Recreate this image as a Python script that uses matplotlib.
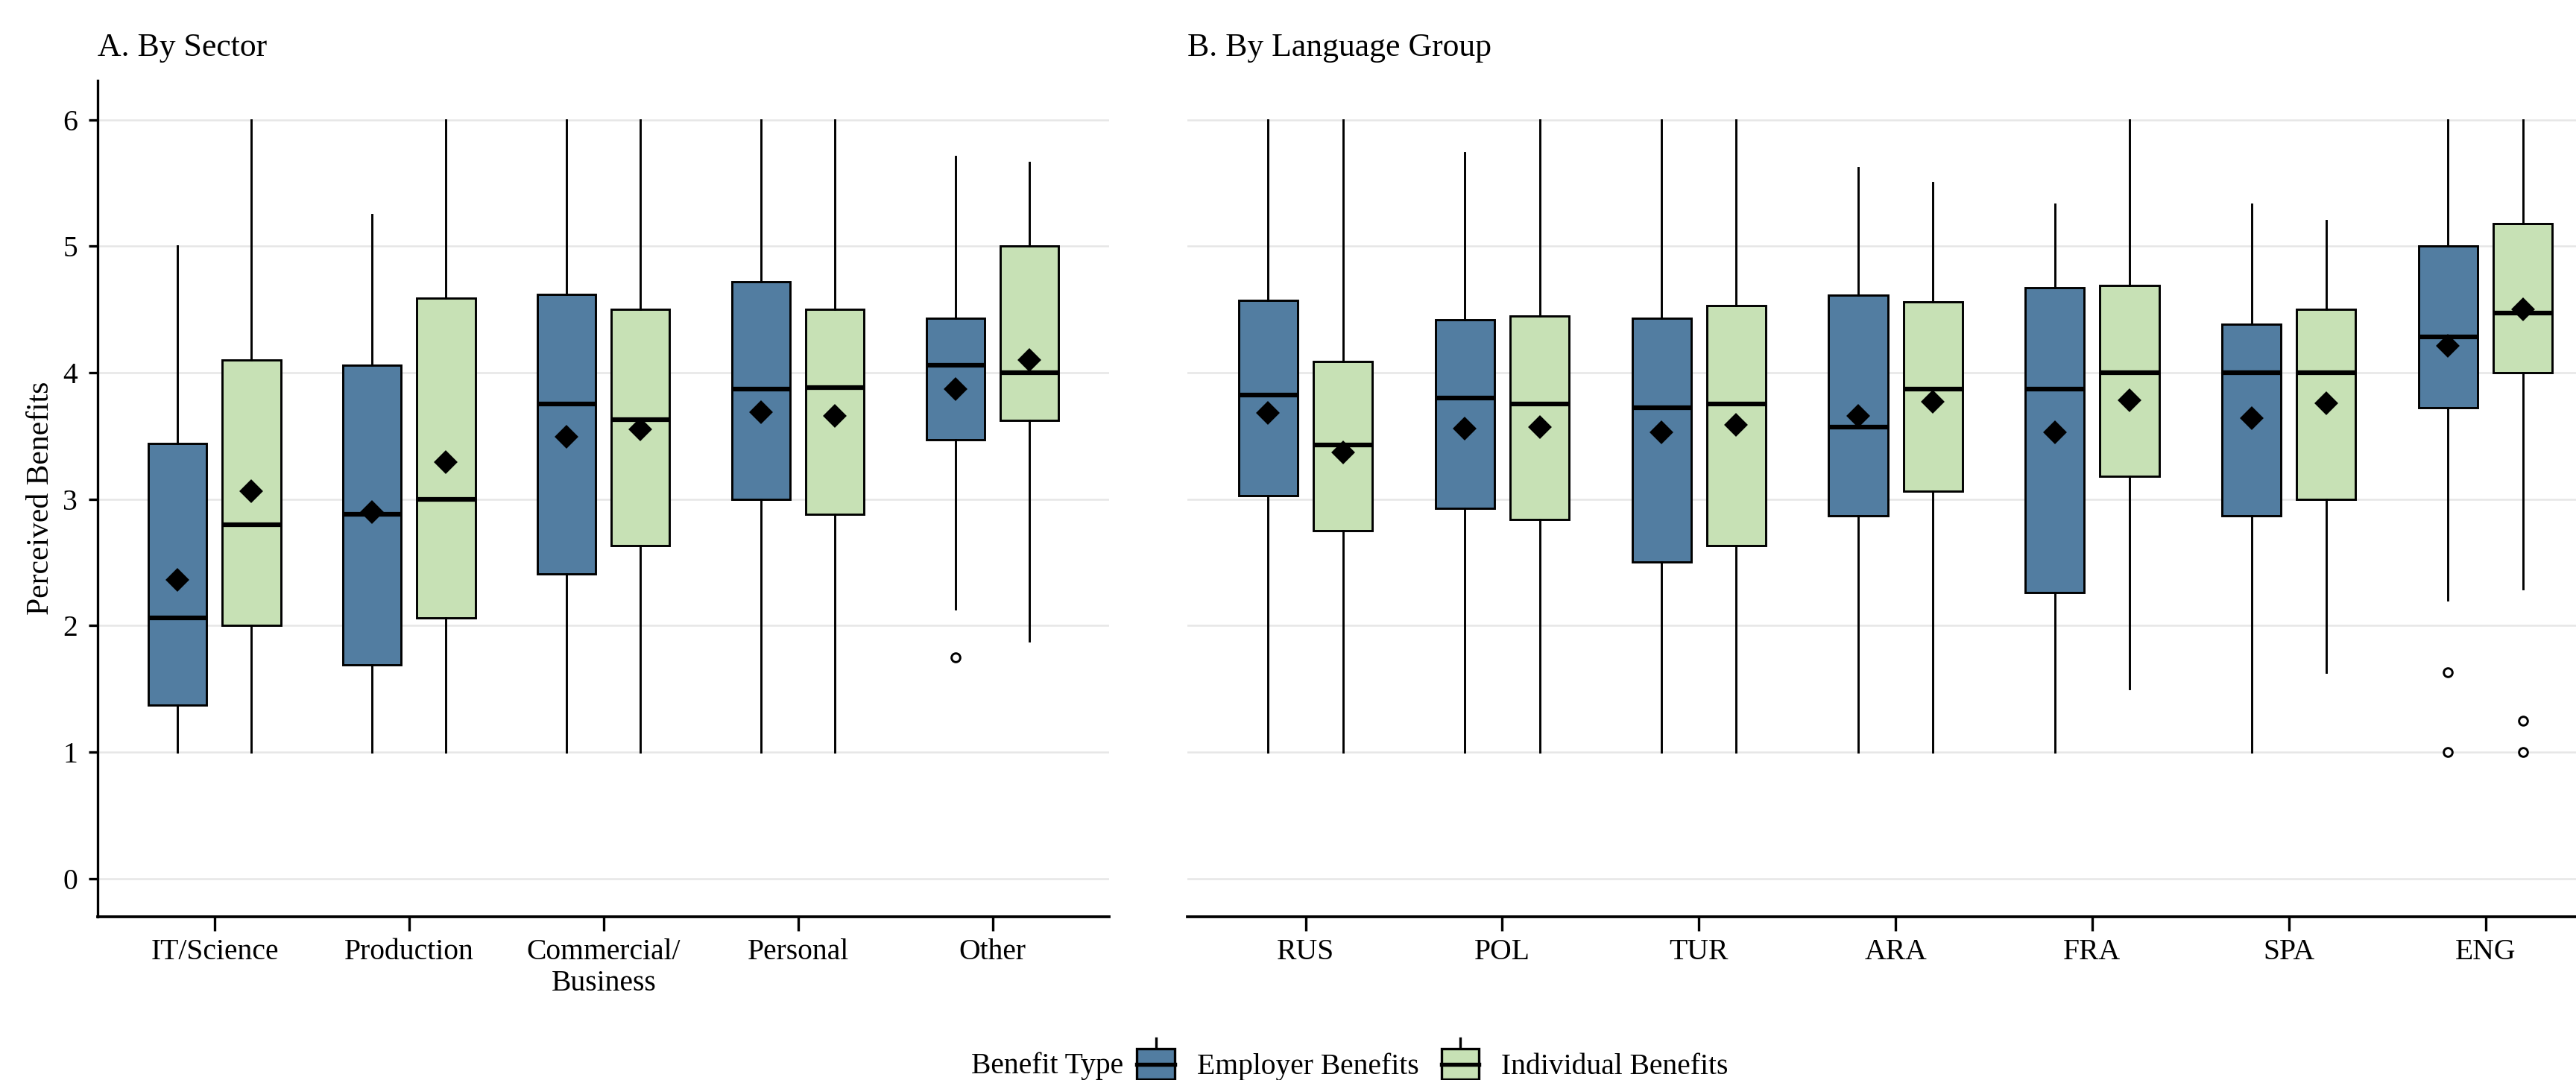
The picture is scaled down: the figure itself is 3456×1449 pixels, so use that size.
import matplotlib
matplotlib.use("Agg")
import matplotlib.pyplot as plt
from matplotlib.patches import Rectangle
from matplotlib.lines import Line2D
from matplotlib.legend_handler import HandlerBase

plt.rcParams['font.family'] = ['Liberation Serif', 'DejaVu Serif']

# ---- data ----
sectors = ['IT/Science', 'Production', 'Commercial/\nBusiness', 'Personal', 'Other']
sec_emp_lo = [1.0, 1.0, 1.0, 1.0, 2.13]
sec_emp_q1 = [1.37, 1.69, 2.41, 3.00, 3.47]
sec_emp_med = [2.06, 2.88, 3.75, 3.87, 4.06]
sec_emp_q3 = [3.44, 4.06, 4.62, 4.72, 4.43]
sec_emp_hi = [5.00, 5.25, 6.0, 6.0, 5.71]
sec_emp_mean = [2.36, 2.90, 3.49, 3.69, 3.87]
sec_emp_out = [[], [], [], [], [1.75]]

sec_ind_lo = [1.0, 1.0, 1.0, 1.0, 1.88]
sec_ind_q1 = [2.00, 2.06, 2.63, 2.88, 3.62]
sec_ind_med = [2.80, 3.00, 3.63, 3.88, 4.00]
sec_ind_q3 = [4.10, 4.59, 4.50, 4.50, 5.00]
sec_ind_hi = [6.0, 6.0, 6.0, 6.0, 5.66]
sec_ind_mean = [3.06, 3.29, 3.55, 3.66, 4.10]
sec_ind_out = [[], [], [], [], []]

langs = ['RUS', 'POL', 'TUR', 'ARA', 'FRA', 'SPA', 'ENG']
lang_emp_lo = [1.0, 1.0, 1.0, 1.0, 1.0, 1.0, 2.20]
lang_emp_q1 = [3.03, 2.93, 2.50, 2.87, 2.26, 2.87, 3.72]
lang_emp_med = [3.82, 3.80, 3.72, 3.57, 3.87, 4.00, 4.28]
lang_emp_q3 = [4.57, 4.42, 4.43, 4.61, 4.67, 4.38, 5.00]
lang_emp_hi = [6.0, 5.74, 6.0, 5.62, 5.33, 5.33, 6.0]
lang_emp_mean = [3.68, 3.56, 3.53, 3.66, 3.53, 3.64, 4.21]
lang_emp_out = [[], [], [], [], [], [], [1.63, 1.0]]

lang_ind_lo = [1.0, 1.0, 1.0, 1.0, 1.50, 1.63, 2.29]
lang_ind_q1 = [2.75, 2.84, 2.63, 3.06, 3.18, 3.00, 4.00]
lang_ind_med = [3.43, 3.75, 3.75, 3.87, 4.00, 4.00, 4.47]
lang_ind_q3 = [4.09, 4.45, 4.53, 4.56, 4.69, 4.50, 5.18]
lang_ind_hi = [6.0, 6.0, 6.0, 5.50, 6.0, 5.20, 6.0]
lang_ind_mean = [3.37, 3.57, 3.59, 3.77, 3.78, 3.76, 4.50]
lang_ind_out = [[], [], [], [], [], [], [1.25, 1.0]]

benefit_types = ['Employer Benefits', 'Individual Benefits']
colors = ['#527DA1', '#C7E1B5']

FS = 9.5


def make_stats(lo, q1, med, q3, hi, mean, out):
    stats = []
    for i in range(len(med)):
        stats.append(dict(whislo=lo[i], q1=q1[i], med=med[i], q3=q3[i],
                          whishi=hi[i], mean=mean[i], fliers=out[i]))
    return stats


def draw_group(ax, stats, pos, color):
    ax.bxp(stats, positions=pos, widths=0.30, patch_artist=True,
           showmeans=True, showcaps=False, manage_ticks=False,
           boxprops=dict(facecolor=color, edgecolor='black', linewidth=0.7),
           medianprops=dict(color='black', linewidth=1.5),
           whiskerprops=dict(color='black', linewidth=0.7),
           meanprops=dict(marker='D', markerfacecolor='black', markeredgecolor='black', markersize=4.5),
           flierprops=dict(marker='o', markerfacecolor='white', markeredgecolor='black',
                           markersize=2.8, markeredgewidth=0.7),
           zorder=3)


def style_axes(ax, labels, show_y):
    ax.set_ylim(-0.3, 6.31)
    ax.set_yticks(range(0, 7))
    ax.set_xticks(range(len(labels)))
    ax.set_xticklabels(labels, fontsize=FS)
    ax.yaxis.grid(True, color='#E6E6E6', linewidth=0.6, zorder=0)
    ax.set_axisbelow(True)
    for s in ['top', 'right']:
        ax.spines[s].set_visible(False)
    ax.spines['bottom'].set_linewidth(0.9)
    ax.tick_params(axis='x', length=4.5, width=0.8, pad=2.5)
    if show_y:
        ax.spines['left'].set_linewidth(0.8)
        ax.tick_params(axis='y', length=3, width=0.8, labelsize=FS)
    else:
        ax.spines['left'].set_visible(False)
        ax.tick_params(axis='y', length=0, labelleft=False)


fig = plt.figure(figsize=(11.52, 4.83), dpi=300)
ax1 = fig.add_axes([0.038, 0.1514, 0.3926, 0.7741])
ax2 = fig.add_axes([0.461, 0.1514, 0.539, 0.7741])

off = 0.19
x1 = list(range(len(sectors)))
draw_group(ax1, make_stats(sec_emp_lo, sec_emp_q1, sec_emp_med, sec_emp_q3, sec_emp_hi, sec_emp_mean, sec_emp_out),
           [x - off for x in x1], colors[0])
draw_group(ax1, make_stats(sec_ind_lo, sec_ind_q1, sec_ind_med, sec_ind_q3, sec_ind_hi, sec_ind_mean, sec_ind_out),
           [x + off for x in x1], colors[1])
style_axes(ax1, sectors, True)
ax1.set_xlim(-0.6, 4.6)
ax1.set_ylabel('Perceived Benefits', fontsize=FS + 0.5, labelpad=2.5)

x2 = list(range(len(langs)))
draw_group(ax2, make_stats(lang_emp_lo, lang_emp_q1, lang_emp_med, lang_emp_q3, lang_emp_hi, lang_emp_mean, lang_emp_out),
           [x - off for x in x2], colors[0])
draw_group(ax2, make_stats(lang_ind_lo, lang_ind_q1, lang_ind_med, lang_ind_q3, lang_ind_hi, lang_ind_mean, lang_ind_out),
           [x + off for x in x2], colors[1])
style_axes(ax2, langs, False)
ax2.set_xlim(-0.6, 6.46)

fig.text(0.038, 1 - 64 / 1449, 'A. By Sector', fontsize=10.5, va='center', ha='left')
fig.text(0.461, 1 - 64 / 1449, 'B. By Language Group', fontsize=10.5, va='center', ha='left')


class BoxHandler(HandlerBase):
    def create_artists(self, legend, orig_handle, xdescent, ydescent, width, height, fontsize, trans):
        w = width * 0.8
        x0 = -xdescent + (width - w) / 2
        h = height * 1.15
        y0 = -ydescent + (height - h) / 2
        xc = x0 + w / 2
        rect = Rectangle((x0, y0), w, h, facecolor=orig_handle.get_facecolor(),
                         edgecolor='black', linewidth=0.8, transform=trans)
        med = Line2D([x0, x0 + w], [y0 + h / 2] * 2, color='black', linewidth=1.3, transform=trans)
        top = Line2D([xc, xc], [y0 + h, y0 + h + h * 0.35], color='black', linewidth=0.8, transform=trans)
        bot = Line2D([xc, xc], [y0, y0 - h * 0.35], color='black', linewidth=0.8, transform=trans)
        return [top, bot, rect, med]


handles = [Rectangle((0, 0), 1, 1, facecolor=c) for c in colors]
fig.text(0.377, 0.013, 'Benefit Type', fontsize=FS, ha='left', va='center')
fig.legend(handles, benefit_types, handler_map={Rectangle: BoxHandler()},
           loc='center left', bbox_to_anchor=(0.4395, 0.013), ncol=2, frameon=False,
           fontsize=FS, handlelength=1.6, handleheight=1.0, handletextpad=0.6,
           columnspacing=0.6, borderpad=0, borderaxespad=0)

fig.savefig('out.png', dpi=300)
